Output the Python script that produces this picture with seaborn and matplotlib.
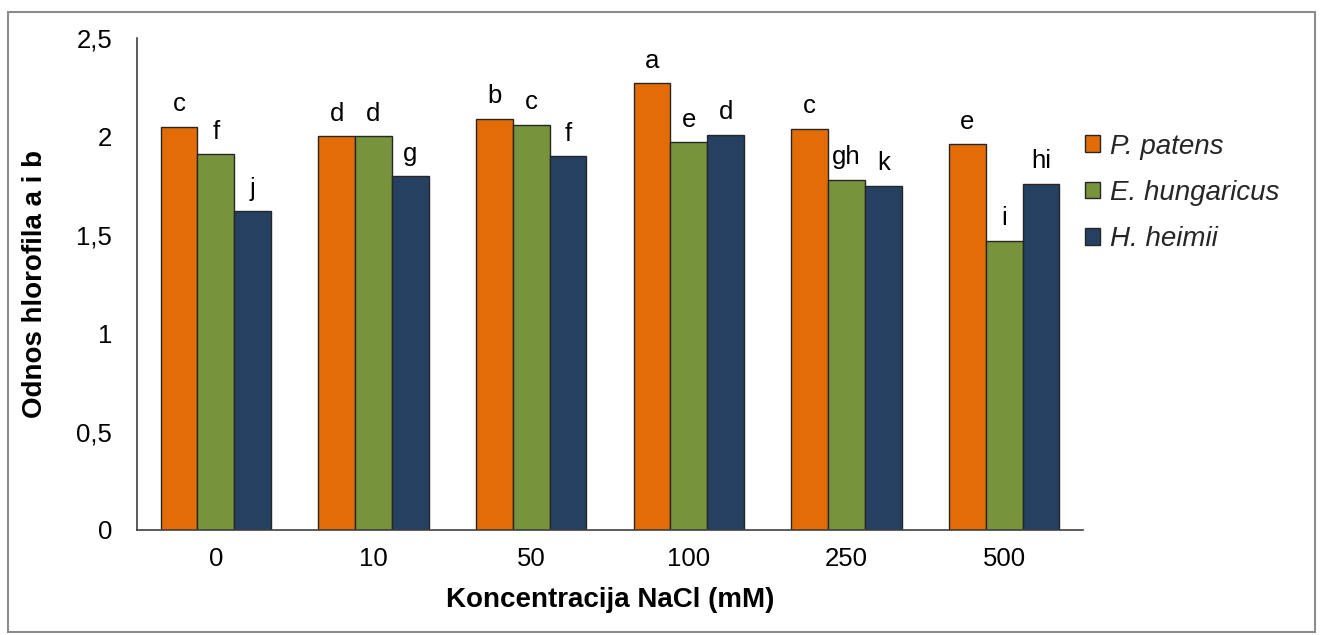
import matplotlib
matplotlib.use("Agg")
import matplotlib.pyplot as plt
import matplotlib.patches as mpatches
import seaborn as sns
import pandas as pd

# NaCl concentration groups and chlorophyll a/b ratio per species
concentrations = ["0", "10", "50", "100", "250", "500"]
species = ["P. patens", "E. hungaricus", "H. heimii"]
p_patens = [2.05, 2.00, 2.09, 2.27, 2.04, 1.96]
e_hungaricus = [1.91, 2.00, 2.06, 1.97, 1.78, 1.47]
h_heimii = [1.62, 1.80, 1.90, 2.01, 1.75, 1.76]
# significance letters per bar
letters_p = ["c", "d", "b", "a", "c", "e"]
letters_e = ["f", "d", "c", "e", "gh", "i"]
letters_h = ["j", "g", "f", "d", "k", "hi"]

colors = ["#E36C09", "#77933C", "#254061"]

rows = []
for sp, vals, labs in zip(species, [p_patens, e_hungaricus, h_heimii],
                          [letters_p, letters_e, letters_h]):
    for c, v, l in zip(concentrations, vals, labs):
        rows.append({"conc": c, "species": sp, "ratio": v, "letter": l})
df = pd.DataFrame(rows)

sns.set_theme(style="white")
plt.rcParams["font.family"] = ["Liberation Sans", "DejaVu Sans"]

fig = plt.figure(figsize=(13.2, 6.35), dpi=100)
ax = fig.add_axes([0.1038, 0.1654, 0.7167, 0.7746])

sns.barplot(data=df, x="conc", y="ratio", hue="species", order=concentrations,
            hue_order=species, palette=colors, width=0.70, edgecolor="#262626",
            linewidth=1.0, errorbar=None, ax=ax, legend=False, saturation=1)

# letters above each bar
for container, sp in zip(ax.containers, species):
    sub = df[df["species"] == sp].set_index("conc").loc[concentrations]
    for bar, letter in zip(container, sub["letter"]):
        ax.annotate(letter, (bar.get_x() + bar.get_width() / 2, bar.get_height()),
                    xytext=(0, 11), textcoords="offset points", ha="center",
                    va="baseline", fontsize=18.5, color="black")

ax.set_ylim(0, 2.5)
ax.set_yticks([0, 0.5, 1, 1.5, 2, 2.5])
ax.set_yticklabels(["0", "0,5", "1", "1,5", "2", "2,5"])
ax.set_xlim(-0.5, len(concentrations) - 0.5)
ax.tick_params(axis="y", which="major", direction="out", length=6, width=1,
               color="#404040", labelsize=18.5, pad=12, labelcolor="black")
ax.tick_params(axis="x", length=0, labelsize=18.5, pad=12, labelcolor="black")
for s in ["top", "right"]:
    ax.spines[s].set_visible(False)
for s in ["left", "bottom"]:
    ax.spines[s].set_color("#404040")
    ax.spines[s].set_linewidth(1.2)

ax.set_xlabel("Koncentracija NaCl (mM)", fontsize=20, fontweight="bold",
              labelpad=12, color="black")
ax.set_ylabel("Odnos hlorofila a i b", fontsize=20, fontweight="bold",
              labelpad=20, color="black")

handles = [mpatches.Patch(facecolor=c, edgecolor="#262626", linewidth=1.0, label=s)
           for c, s in zip(colors, species)]
leg = fig.legend(handles=handles, loc="upper left", bbox_to_anchor=(0.803, 0.829),
                 frameon=False, prop={"style": "italic", "size": 20},
                 handlelength=0.55, handleheight=0.55, handletextpad=0.35,
                 labelspacing=0.73)

# outer chart border
fig.patches.append(mpatches.Rectangle((0.006, 0.004), 0.99, 0.977,
                                      transform=fig.transFigure, fill=False,
                                      edgecolor="#8c8c8c", linewidth=1.5))

fig.savefig("out.png", dpi=100)
